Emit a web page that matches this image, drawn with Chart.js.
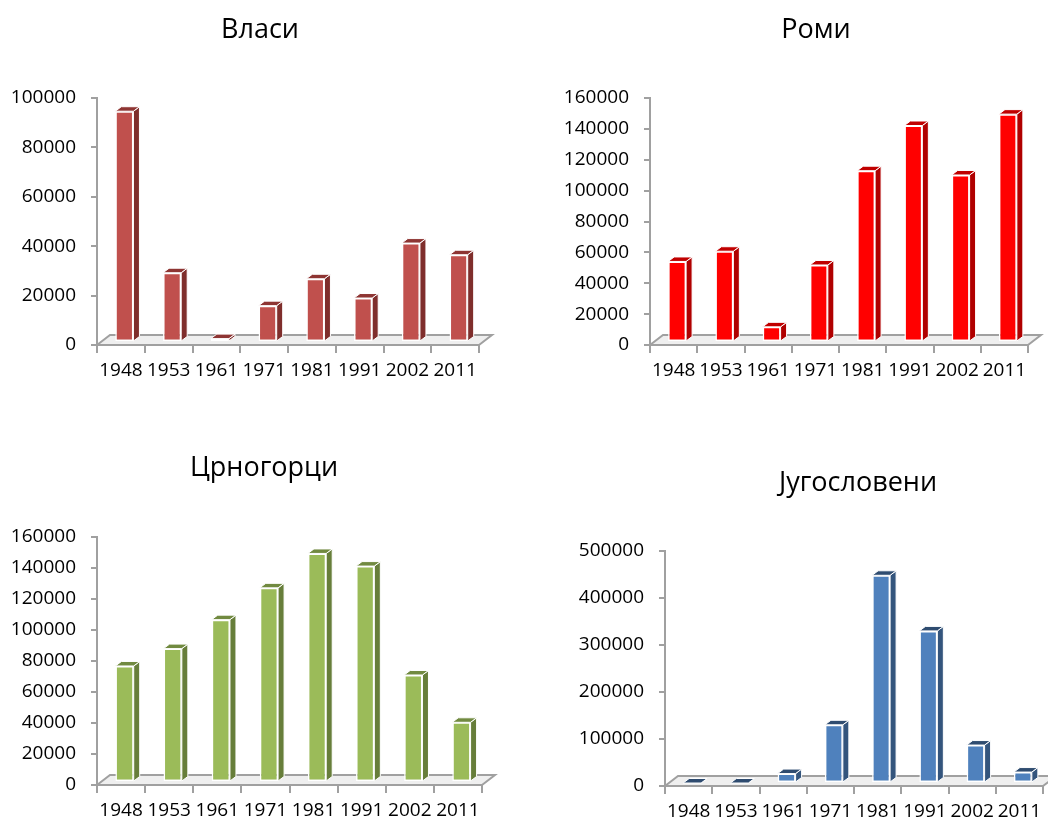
<!DOCTYPE html>
<html>
<head>
<meta charset="utf-8">
<script src="https://cdn.jsdelivr.net/npm/chart.js@4"></script>
<style>
  html, body { margin: 0; padding: 0; background: #fff; }
  #wrap { position: relative; width: 1048px; height: 822px; overflow: hidden; }
  .box { position: absolute; width: 524px; height: 411px; }
</style>
</head>
<body>
<div id="wrap">
  <div class="box" style="left:0;top:0"><canvas id="c1"></canvas></div>
  <div class="box" style="left:524px;top:0"><canvas id="c2"></canvas></div>
  <div class="box" style="left:0;top:411px"><canvas id="c3"></canvas></div>
  <div class="box" style="left:524px;top:411px"><canvas id="c4"></canvas></div>
</div>
<script>
// ---- data ----
const years = ['1948', '1953', '1961', '1971', '1981', '1991', '2002', '2011'];
const vlasi       = [93440, 28047, 1368, 14724, 25596, 17807, 40054, 35330];
const romi        = [52181, 58800, 9826, 49894, 110959, 140237, 108193, 147604];
const crnogorci   = [74860, 86061, 104753, 125260, 147466, 139299, 69049, 38527];
const jugosloveni = [0, 0, 20079, 123824, 441941, 323625, 80721, 23303];

const titles = ['Власи', 'Роми', 'Црногорци', 'Југословени'];
const yMax   = [100000, 160000, 160000, 500000];
const ySteps = [20000, 20000, 20000, 100000];

const FONT = '"Open Sans", Lato, sans-serif';
const AXIS = '#a0a0a0';

// --- floor + 3D bars ---
const FLOOR = { dx: 13, dy: -10 };
const SHIFT = { dx: 3.5, dy: -3 };
const DEPTH = { dx: 6, dy: -4.5 };

const bar3d = {
  id: 'bar3d',
  beforeDraw(chart) {
    const { ctx, chartArea: a } = chart;
    const y0 = chart.scales.y.getPixelForValue(0);
    ctx.save();
    ctx.beginPath();
    ctx.moveTo(a.left, y0);
    ctx.lineTo(a.left + FLOOR.dx, y0 + FLOOR.dy);
    ctx.lineTo(a.right + FLOOR.dx, y0 + FLOOR.dy);
    ctx.lineTo(a.right, y0);
    ctx.closePath();
    ctx.fillStyle = '#efefef';
    ctx.fill();
    ctx.strokeStyle = AXIS;
    ctx.lineWidth = 2;
    ctx.beginPath();
    ctx.moveTo(a.left, y0);
    ctx.lineTo(a.left + FLOOR.dx, y0 + FLOOR.dy);
    ctx.lineTo(a.right + FLOOR.dx, y0 + FLOOR.dy);
    ctx.lineTo(a.right, y0);
    ctx.stroke();
    ctx.restore();
  },
  beforeDatasetsDraw(chart) {
    chart.ctx.save();
    chart.ctx.translate(SHIFT.dx, SHIFT.dy);
  },
  afterDatasetsDraw(chart, args, o) {
    const ctx = chart.ctx;
    chart.getDatasetMeta(0).data.forEach(el => {
      const p = el.getProps(['x', 'y', 'base', 'width'], true);
      const l = p.x - p.width / 2, r = p.x + p.width / 2;
      const t = Math.min(p.y, p.base), b = p.base;
      ctx.lineWidth = 1;
      ctx.strokeStyle = '#ffffff';
      // side
      ctx.beginPath();
      ctx.moveTo(r, t);
      ctx.lineTo(r + DEPTH.dx, t + DEPTH.dy);
      ctx.lineTo(r + DEPTH.dx, b + DEPTH.dy);
      ctx.lineTo(r, b);
      ctx.closePath();
      ctx.fillStyle = o.side;
      ctx.fill();
      ctx.stroke();
      // top
      ctx.beginPath();
      ctx.moveTo(l, t);
      ctx.lineTo(l + DEPTH.dx, t + DEPTH.dy);
      ctx.lineTo(r + DEPTH.dx, t + DEPTH.dy);
      ctx.lineTo(r, t);
      ctx.closePath();
      ctx.fillStyle = o.top;
      ctx.fill();
      ctx.stroke();
    });
    ctx.restore();
  }
};

const titleText = {
  id: 'titleText',
  afterDraw(chart, args, o) {
    const ctx = chart.ctx;
    ctx.save();
    ctx.font = '27px ' + FONT;
    ctx.fillStyle = '#000';
    ctx.textAlign = 'center';
    ctx.textBaseline = 'middle';
    ctx.fillText(o.text, o.x, o.y);
    ctx.restore();
  }
};

// layout per chart (canvas coords)
function makeChart(id, i, values, front, side, top, L) {
  new Chart(document.getElementById(id), {
    type: 'bar',
    data: {
      labels: years,
      datasets: [{
        data: values,
        backgroundColor: front,
        borderColor: '#ffffff',
        borderWidth: 1.5,
        borderSkipped: false,
        categoryPercentage: 1,
        barPercentage: 0.38
      }]
    },
    options: {
      responsive: true,
      maintainAspectRatio: false,
      animation: false,
      layout: { padding: { left: 0, top: L.top, right: L.right, bottom: 0 } },
      plugins: {
        legend: { display: false },
        tooltip: { enabled: false },
        bar3d: { side: side, top: top },
        titleText: { text: titles[i], x: L.tx, y: L.ty }
      },
      scales: {
        x: {
          grid: { drawOnChartArea: false, drawTicks: true, tickLength: 8, color: AXIS, lineWidth: 2, offset: true },
          border: { display: true, color: AXIS, width: 2 },
          ticks: { color: '#000', font: { family: FONT, size: 19 }, padding: 6, maxRotation: 0, autoSkip: false },
          afterFit: s => { s.height = L.xh; }
        },
        y: {
          min: 0,
          max: yMax[i],
          grid: { drawOnChartArea: false, drawTicks: true, tickLength: 6, color: AXIS, lineWidth: 2 },
          border: { display: true, color: AXIS, width: 2 },
          ticks: {
            stepSize: ySteps[i], color: '#000', font: { family: FONT, size: 19 }, padding: 15,
            callback: v => String(v)
          },
          afterFit: s => { s.width = L.yw; }
        }
      }
    },
    plugins: [bar3d, titleText]
  });
}

makeChart('c1', 0, vlasi, '#C0504D', '#7f2e2c', '#8e3533',
  { top: 98, right: 45, yw: 97, xh: 66, tx: 260, ty: 30 });
makeChart('c2', 1, romi, '#FF0000', '#b00000', '#c00000',
  { top: 98, right: 20, yw: 126, xh: 66, tx: 292, ty: 30 });
makeChart('c3', 2, crnogorci, '#9BBB59', '#677e3a', '#718a40',
  { top: 126, right: 42, yw: 97, xh: 37, tx: 264, ty: 57 });
makeChart('c4', 3, jugosloveni, '#4F81BD', '#34557d', '#2f4c70',
  { top: 140, right: 5, yw: 141, xh: 36, tx: 334, ty: 72 });
</script>
</body>
</html>
